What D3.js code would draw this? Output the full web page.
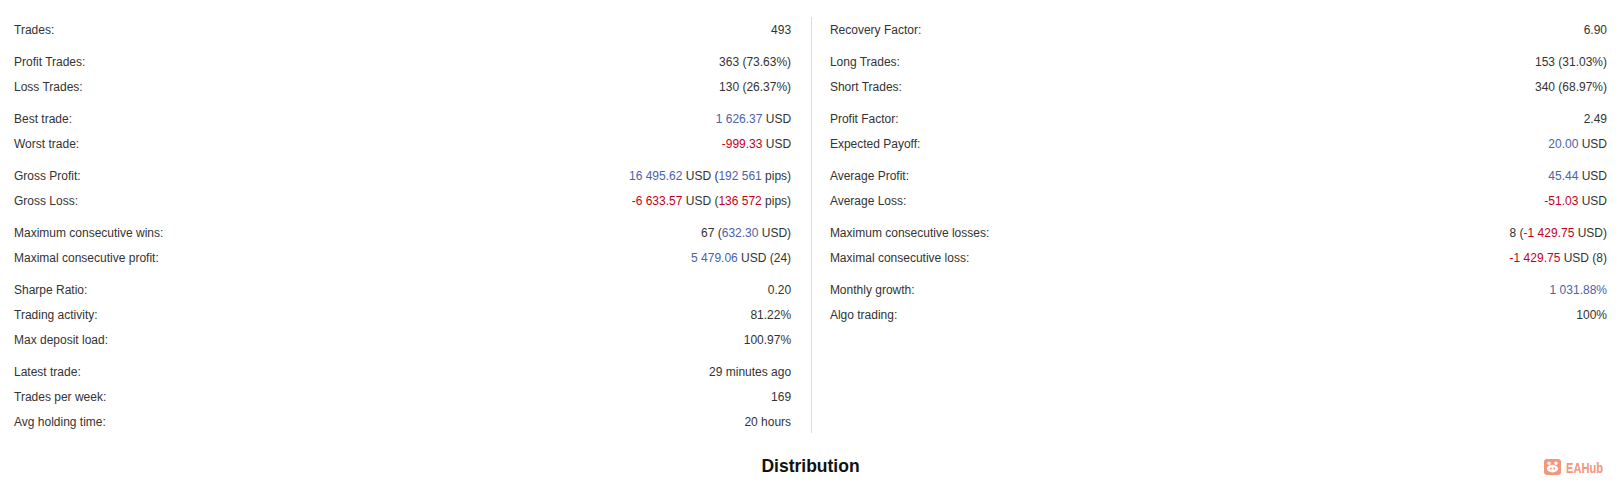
<!DOCTYPE html>
<html>
<head>
<meta charset="utf-8">
<script src="https://cdn.jsdelivr.net/npm/d3@7"></script>
<style>
  html, body { margin: 0; padding: 0; background: #fff; }
  svg { display: block; }
</style>
</head>
<body>
<svg id="chart" width="1617" height="485"></svg>
<script>
// ---- data ----
// each value is a list of segments: [text, tone]; tone "p" = positive (blue), "n" = negative (red), "" = plain
const leftGroups  = [0, 1, 1, 2, 2, 3, 3, 4, 4, 5, 5, 5, 6, 6, 6];
const leftLabels  = [
  "Trades:", "Profit Trades:", "Loss Trades:", "Best trade:", "Worst trade:",
  "Gross Profit:", "Gross Loss:", "Maximum consecutive wins:", "Maximal consecutive profit:",
  "Sharpe Ratio:", "Trading activity:", "Max deposit load:",
  "Latest trade:", "Trades per week:", "Avg holding time:"
];
const leftValues  = [
  [["493", ""]],
  [["363 (73.63%)", ""]],
  [["130 (26.37%)", ""]],
  [["1 626.37", "p"], [" USD", ""]],
  [["-999.33", "n"], [" USD", ""]],
  [["16 495.62", "p"], [" USD (", ""], ["192 561", "p"], [" pips)", ""]],
  [["-6 633.57", "n"], [" USD (", ""], ["136 572", "n"], [" pips)", ""]],
  [["67 (", ""], ["632.30", "p"], [" USD)", ""]],
  [["5 479.06", "p"], [" USD (24)", ""]],
  [["0.20", ""]],
  [["81.22%", ""]],
  [["100.97%", ""]],
  [["29 minutes ago", ""]],
  [["169", ""]],
  [["20 hours", ""]]
];

const rightGroups = [0, 1, 1, 2, 2, 3, 3, 4, 4, 5, 5];
const rightLabels = [
  "Recovery Factor:", "Long Trades:", "Short Trades:", "Profit Factor:", "Expected Payoff:",
  "Average Profit:", "Average Loss:", "Maximum consecutive losses:", "Maximal consecutive loss:",
  "Monthly growth:", "Algo trading:"
];
const rightValues = [
  [["6.90", ""]],
  [["153 (31.03%)", ""]],
  [["340 (68.97%)", ""]],
  [["2.49", ""]],
  [["20.00", "p"], [" USD", ""]],
  [["45.44", "p"], [" USD", ""]],
  [["-51.03", "n"], [" USD", ""]],
  [["8 (", ""], ["-1 429.75", "n"], [" USD)", ""]],
  [["-1 429.75", "n"], [" USD (8)", ""]],
  [["1 031.88%", "p"]],
  [["100%", ""]]
];

const sectionTitle = "Distribution";
const brandName = "EAHub";

// ---- rendering ----
const svg = d3.select("#chart");
const FONT = "'Liberation Sans', Arial, sans-serif";
const toneColor = { "": "#333333", "p": "#4a62a8", "n": "#c4001a" };

// vertical layout: row index + group gaps
const rowStep = 25, groupGap = 6.9, firstRow = 30;
const rowY = (i, g) => firstRow + i * rowStep + g * groupGap;

// horizontal layout via band scale over the two columns
const colScale = d3.scaleBand().domain(["left", "right"]).range([14, 1607]).paddingInner(0.0475);

function drawColumn(key, labels, values, groups) {
  const x0 = colScale(key), x1 = x0 + colScale.bandwidth();
  const rows = labels.map((l, i) => ({ label: l, value: values[i], g: groups[i], i }));
  const gRows = svg.append("g").attr("class", "col-" + key)
    .selectAll("g.row").data(rows).join("g")
    .attr("class", "row")
    .attr("transform", d => `translate(0,${rowY(d.i, d.g) + 4.3})`);

  gRows.append("text")
    .attr("x", x0)
    .attr("font-family", FONT).attr("font-size", 12).attr("fill", "#333333")
    .text(d => d.label);

  const vt = gRows.append("text")
    .attr("x", x1).attr("text-anchor", "end")
    .attr("font-family", FONT).attr("font-size", 12);
  vt.selectAll("tspan").data(d => d.value).join("tspan")
    .attr("fill", s => toneColor[s[1]])
    .style("white-space", "pre")
    .text(s => s[0]);
}

drawColumn("left", leftLabels, leftValues, leftGroups);
drawColumn("right", rightLabels, rightValues, rightGroups);

// divider between columns
const divX = Math.round((colScale("left") + colScale.bandwidth() + colScale("right")) / 2) + 0.5;
svg.append("line")
  .attr("x1", divX).attr("x2", divX)
  .attr("y1", 17).attr("y2", 433)
  .attr("stroke", "#dcdcdc").attr("stroke-width", 1);

// section title
svg.append("text")
  .attr("x", divX - 1).attr("y", 472)
  .attr("text-anchor", "middle")
  .attr("font-family", FONT).attr("font-size", 17.5).attr("font-weight", "bold")
  .attr("fill", "#111111")
  .text(sectionTitle);

// brand mark
const salmon = "#f5957c";
const brand = svg.append("g").attr("transform", "translate(1544,459)");
brand.append("rect").attr("width", 17).attr("height", 16).attr("rx", 3).attr("fill", salmon);
brand.append("circle").attr("cx", 5).attr("cy", 4.2).attr("r", 1.7).attr("fill", "#fff");
brand.append("circle").attr("cx", 12).attr("cy", 4.2).attr("r", 1.7).attr("fill", "#fff");
brand.append("ellipse").attr("cx", 8.5).attr("cy", 9.6).attr("rx", 5.6).attr("ry", 3.8).attr("fill", "#fff");
brand.append("circle").attr("cx", 6.8).attr("cy", 9.6).attr("r", 1).attr("fill", salmon);
brand.append("circle").attr("cx", 10.2).attr("cy", 9.6).attr("r", 1).attr("fill", salmon);
svg.append("text")
  .attr("x", 1566).attr("y", 472.5)
  .attr("font-family", FONT)
  .attr("font-size", 14).attr("font-weight", "bold")
  .attr("textLength", 37).attr("lengthAdjust", "spacingAndGlyphs")
  .attr("fill", salmon)
  .text(brandName);
</script>
</body>
</html>
